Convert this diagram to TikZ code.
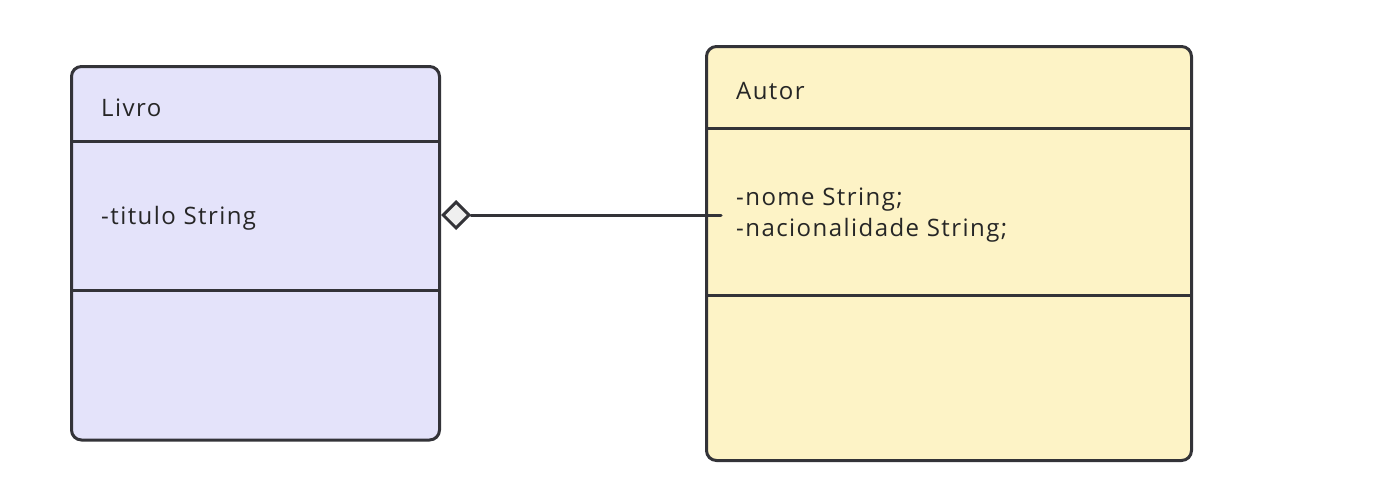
\documentclass[tikz,border=0pt]{standalone}
\usepackage{fontspec}
\setmainfont[Ligatures=NoCommon,LetterSpace=6]{Open Sans}
\usetikzlibrary{calc}
\usetikzlibrary{shapes.geometric}
\definecolor{edge-gray}{HTML}{333338}
\definecolor{livro-fill}{HTML}{E4E3FA}
\definecolor{autor-fill}{HTML}{FDF3C6}
\definecolor{diamond-fill}{HTML}{EFEFEF}
\tikzstyle{classbox}=[draw=edge-gray,line width=3pt,rounded corners=10pt,inner sep=0pt]
\tikzstyle{classtext}=[anchor=base west,inner sep=0pt,font=\fontsize{24}{28}\selectfont,text=black!85]
\tikzstyle{aggdiamond}=[diamond,draw=edge-gray,fill=diamond-fill,line width=3pt,inner sep=0pt,minimum width=27pt,minimum height=27pt]
\tikzstyle{link}=[edge-gray,line width=3pt,line cap=round]
\newcommand{\classdivider}[2]{ % #1 = box name, #2 = y of the divider
	\draw[edge-gray,line width=3pt] (#1.west |- 0,#2) -- (#1.east |- 0,#2);
}

\begin{document}
\begin{tikzpicture}[x=1pt,y=-1pt]
	\useasboundingbox (0,0) rectangle (1398,490);
	% the two class boxes
	\node[classbox,fill=livro-fill,minimum width=368pt,minimum height=373.5pt] (livro) at (255.5,253.25) {};
	\node[classbox,fill=autor-fill,minimum width=485pt,minimum height=414pt] (autor) at (949,253.5) {};
	% compartments
	\classdivider{livro}{141}
	\classdivider{livro}{290.5}
	\classdivider{autor}{128}
	\classdivider{autor}{295}
	% names and attributes
	\node[classtext] (livro-name) at (101,116) {Livro};
	\node[classtext] (livro-attr) at (101,224) {-titulo String};
	\node[classtext] (autor-name) at (736,99) {Autor};
	\node[classtext] (autor-nome) at (736,205) {-nome String;};
	\node[classtext] (autor-nac) at (736,236) {-nacionalidade String;};
	% aggregation: open diamond on Livro, line ends inside Autor
	\node[aggdiamond,anchor=west] (agg) at (441,215) {};
	\coordinate (autor-end) at (721,215);
	\draw[link] (agg.east) -- (autor-end);
\end{tikzpicture}
\end{document}
